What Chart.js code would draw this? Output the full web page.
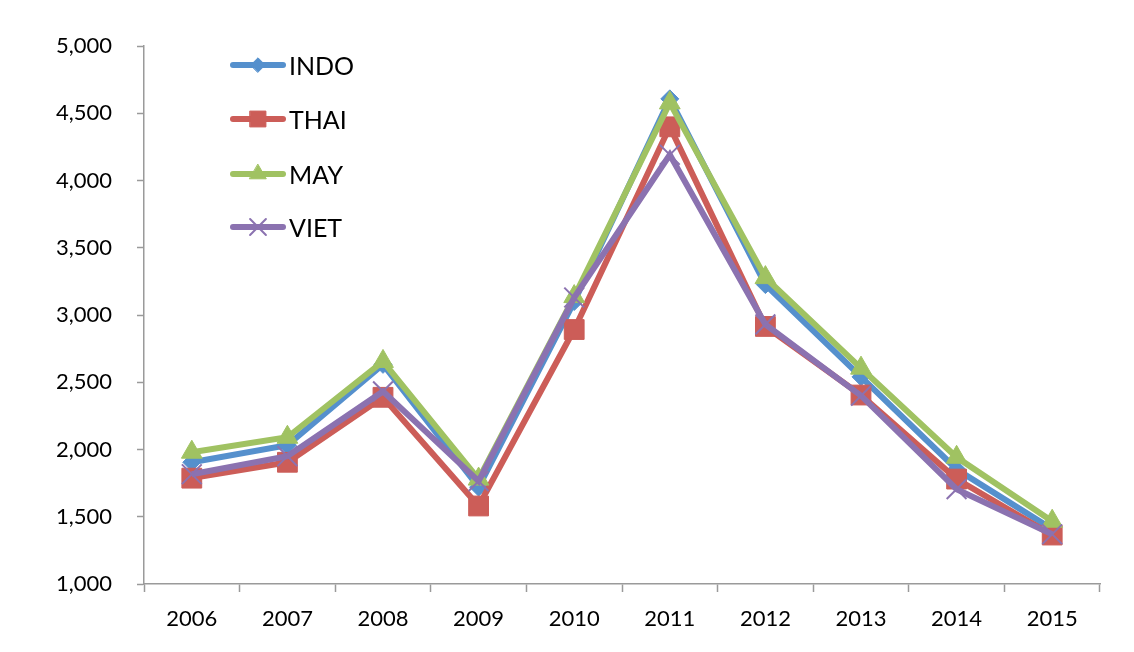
<!DOCTYPE html>
<html>
<head>
<meta charset="utf-8">
<script src="https://cdn.jsdelivr.net/npm/chart.js@4"></script>
<style>
    body { margin: 0; background: #fff; }
    #wrap { width: 1134px; height: 652px; }
</style>
</head>
<body>
<div id="wrap">
    <canvas id="priceChart" width="1134" height="652"></canvas>
</div>
<script>
const years = ['2006', '2007', '2008', '2009', '2010', '2011', '2012', '2013', '2014', '2015'];

const indo = [1905, 2032, 2633, 1720, 3100, 4607, 3226, 2540, 1853, 1408];
const thai = [1787, 1905, 2388, 1580, 2892, 4399, 2915, 2405, 1780, 1364];
const may  = [1980, 2091, 2655, 1780, 3137, 4577, 3278, 2605, 1942, 1467];
const viet = [1816, 1950, 2432, 1765, 3130, 4191, 2930, 2400, 1705, 1370];

const seriesNames = ['INDO', 'THAI', 'MAY', 'VIET'];

const axisGray = '#9a9a9a';

Chart.defaults.font.family = 'Lato';
Chart.defaults.color = '#000';

function series(label, data, color, style, radius, pointBorder, order) {
    return {
        label: label,
        data: data,
        borderColor: color,
        backgroundColor: color,
        borderWidth: 6,
        pointStyle: style,
        pointRadius: radius,
        pointHoverRadius: radius,
        pointBorderWidth: pointBorder,
        pointBackgroundColor: color,
        pointBorderColor: color,
        tension: 0,
        order: order
    };
}

/* legend sits inside the plot, top-left */
const insideLegend = {
    id: 'insideLegend',
    afterDraw(chart) {
        const ctx = chart.ctx;
        const rows = [65, 119, 174, 227];
        chart.data.datasets.forEach((ds, i) => {
            const y = rows[i];
            ctx.save();
            ctx.strokeStyle = ds.borderColor;
            ctx.fillStyle = ds.borderColor;
            ctx.lineWidth = 6;
            ctx.lineCap = 'round';
            ctx.beginPath();
            ctx.moveTo(233, y);
            ctx.lineTo(283, y);
            ctx.stroke();
            ctx.lineWidth = ds.pointBorderWidth;
            Chart.helpers.drawPoint(ctx, {
                pointStyle: ds.pointStyle,
                radius: ds.pointRadius * 0.8,
                rotation: 0,
                borderWidth: ds.pointBorderWidth
            }, 258, y);
            ctx.fillStyle = '#000';
            ctx.font = '25px Lato';
            ctx.textBaseline = 'middle';
            ctx.fillText(seriesNames[i], 289, y + 2);
            ctx.restore();
        });
    }
};

const ctx = document.getElementById('priceChart');

new Chart(ctx, {
    type: 'line',

    plugins: [insideLegend],

    data: {
        labels: years,
        datasets: [
            series('INDO', indo, '#5590cd', 'rectRot', 9, 1, 3),
            series('THAI', thai, '#cc5d58', 'rect', 14, 1, 2),
            series('MAY', may, '#a0c262', 'triangle', 12, 1, 1),
            series('VIET', viet, '#8b72b0', 'crossRot', 14, 2, 0)
        ]
    },

    options: {
        responsive: false,
        animation: false,
        layout: {
            padding: { top: 46, right: 34, bottom: 0, left: 0 }
        },
        plugins: {
            legend: { display: false },
            tooltip: { enabled: false }
        },
        scales: {
            x: {
                offset: true,
                grid: {
                    offset: true,
                    drawOnChartArea: false,
                    tickLength: 8,
                    tickColor: axisGray,
                    tickWidth: 1.5
                },
                border: { color: axisGray, width: 1.5 },
                ticks: {
                    padding: 14,
                    font: { size: 22 },
                    color: '#000'
                },
                afterFit(scale) { scale.height = 68; }
            },
            y: {
                min: 1000,
                max: 5000,
                grid: {
                    drawOnChartArea: false,
                    tickLength: 7,
                    tickColor: axisGray,
                    tickWidth: 1.5
                },
                border: { color: axisGray, width: 1.5 },
                ticks: {
                    stepSize: 500,
                    padding: 25,
                    font: { size: 22 },
                    color: '#000',
                    callback: function(value) {
                        return value.toLocaleString('en-US');
                    }
                },
                afterFit(scale) { scale.width = 144; }
            }
        }
    }
});
</script>
</body>
</html>
